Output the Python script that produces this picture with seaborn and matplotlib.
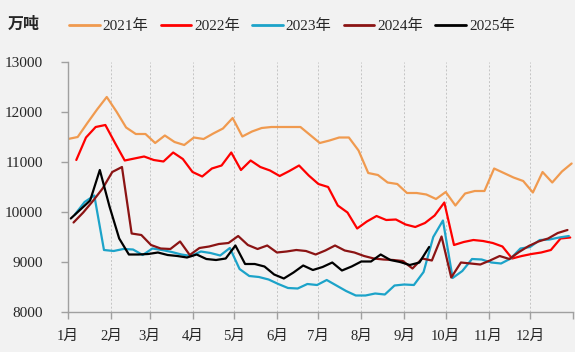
import numpy as np
import pandas as pd
import seaborn as sns
import matplotlib.pyplot as plt

# Datos semanales (viernes), en 万吨
anios = ['2021年', '2022年', '2023年', '2024年', '2025年']
colores = ['#F09A4F', '#FF0000', '#1CA3C9', '#8B1414', '#000000']

v2021 = [11460, 11500, 11780, 12050, 12300, 12010, 11690, 11560, 11560, 11380,
         11530, 11400, 11340, 11490, 11460, 11570, 11670, 11880, 11510, 11610,
         11680, 11700, 11700, 11700, 11700, 11540, 11380, 11430, 11490, 11490,
         11230, 10780, 10740, 10590, 10560, 10380, 10380, 10350, 10260, 10400,
         10130, 10370, 10420, 10420, 10870, 10780, 10690, 10620, 10390, 10800,
         10590, 10810, 10970]
v2022 = [11040, 11490, 11700, 11740, 11380, 11030, 11070, 11110, 11040, 11010,
         11190, 11060, 10800, 10710, 10870, 10930, 11190, 10840, 11030, 10900,
         10830, 10720, 10820, 10930, 10730, 10560, 10500, 10130, 9990, 9670,
         9810, 9920, 9840, 9850, 9750, 9700, 9780, 9930, 10190, 9340,
         9400, 9440, 9420, 9380, 9310, 9070, 9120, 9160, 9190, 9240,
         9470, 9490]
v2023 = [9950, 10200, 10330, 9240, 9220, 9260, 9250, 9140, 9270, 9240,
         9200, 9150, 9120, 9210, 9180, 9130, 9280, 8860, 8720, 8700,
         8650, 8560, 8480, 8470, 8560, 8540, 8640, 8530, 8420, 8330,
         8330, 8370, 8350, 8530, 8550, 8540, 8800, 9500, 9830, 8680,
         8820, 9060, 9050, 8990, 8970, 9070, 9270, 9300, 9440, 9450,
         9490, 9520]
v2024 = [9790, 9990, 10220, 10470, 10800, 10900, 9570, 9540, 9340, 9270,
         9260, 9410, 9140, 9280, 9310, 9360, 9380, 9520, 9340, 9260,
         9330, 9190, 9210, 9240, 9220, 9150, 9230, 9330, 9230, 9190,
         9120, 9070, 9050, 9040, 9020, 8870, 9070, 9030, 9510, 8690,
         8990, 8970, 8950, 9030, 9120, 9060, 9200, 9320, 9410, 9470,
         9580, 9640]
v2025 = [9870, 10050, 10230, 10840, 10110, 9470, 9150, 9150, 9160, 9190,
         9140, 9120, 9090, 9150, 9060, 9040, 9070, 9330, 8960, 8960,
         8910, 8750, 8670, 8790, 8930, 8840, 8900, 8990, 8830, 8910,
         9010, 9010, 9150, 9040, 9000, 8940, 8990, 9300]

meses = ['1月', '2月', '3月', '4月', '5月', '6月', '7月', '8月', '9月', '10月', '11月', '12月']
inicio_mes = [0, 31, 59, 90, 120, 151, 181, 212, 243, 273, 304, 334, 365]

sns.set_theme(style='white')
plt.rcParams['font.family'] = ['Liberation Serif', 'Noto Sans CJK SC']
plt.rcParams['axes.unicode_minus'] = False

# Tabla larga: dia del anio de cada viernes
filas = []
for anio, valores in zip(anios, [v2021, v2022, v2023, v2024, v2025]):
    fechas = pd.date_range(f'{anio[:4]}-01-01', periods=len(valores), freq='W-FRI')
    dias = (fechas - pd.Timestamp(f'{anio[:4]}-01-01')).days
    filas.append(pd.DataFrame({'anio': anio, 'dia': dias, 'valor': valores}))
datos = pd.concat(filas, ignore_index=True)

fondo = '#F2F2F2'
gris = '#A0A0A0'
fig = plt.figure(figsize=(5.75, 3.52), dpi=100, facecolor=fondo)
ax = fig.add_axes([68 / 575, 1 - 312 / 352, (573 - 68) / 575, 250 / 352])
ax.set_facecolor(fondo)

sns.lineplot(data=datos, x='dia', y='valor', hue='anio', palette=colores,
             linewidth=1.6, estimator=None, ax=ax)

ax.set_xlim(0, 365)
ax.set_ylim(8000, 13000)
ax.set_yticks(range(8000, 13001, 1000))
ax.set_xticks(inicio_mes)
ax.set_xticklabels(meses + [''])
ax.set_xlabel('')
ax.set_ylabel('')

ax.grid(axis='x', color='#C4C4C4', linestyle=(0, (2, 2)), linewidth=0.7)
ax.grid(axis='y', visible=False)
for lado in ['top', 'right']:
    ax.spines[lado].set_visible(False)
for lado in ['left', 'bottom']:
    ax.spines[lado].set_color(gris)
    ax.spines[lado].set_linewidth(1)

ax.tick_params(axis='y', direction='out', length=5, color=gris, width=1,
               labelsize=11, pad=13, left=True)
ax.tick_params(axis='x', direction='out', length=5, color=gris, width=1,
               labelsize=10.5, pad=8, bottom=True)

# Leyenda arriba en una fila
handles, labels = ax.get_legend_handles_labels()
ax.get_legend().remove()
for h in handles:
    h.set_linewidth(2)
fig.legend(handles, labels, loc='center left', bbox_to_anchor=(69 / 575, 1 - 26 / 352),
           ncol=5, frameon=False, handlelength=2.0, handletextpad=0.2,
           columnspacing=0.8, borderpad=0, borderaxespad=0, fontsize=11)

fig.text(8 / 575, 1 - 24 / 352, '万吨', fontsize=11.5, fontweight='bold',
         family='Noto Sans CJK SC', va='center', ha='left')

fig.savefig('out.png', dpi=100, facecolor=fondo)
